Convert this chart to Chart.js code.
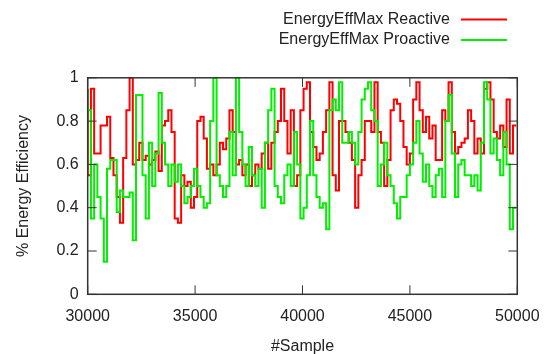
<!DOCTYPE html>
<html lang="en">
<head>
  <meta charset="UTF-8">
  <title>EnergyEffMax</title>
  <script src="https://cdn.jsdelivr.net/npm/chart.js"></script>
  <style>
    body {
      margin: 0;
      padding: 0;
      background-color: #fff;
    }

    #wrap {
      width: 553px;
      height: 354px;
    }
  </style>
</head>
<body>
  <div id="wrap">
    <canvas id="chart" width="553" height="354"></canvas>
  </div>
  <script>
    // readings from the picture, one value every 150 samples starting at 30000
    const startSample = 30000;
    const sampleStep = 150;

    const reactive = [
      0.95, 0.55, 0.95, 0.65, 0.65, 0.78, 0.78, 0.82, 0.63, 0.55,
      0.45, 0.33, 0.63, 0.85, 1.00, 0.60, 0.62, 0.70, 0.62, 0.64,
      0.60, 0.62, 0.66, 0.57, 0.78, 0.80, 0.85, 0.75, 0.35, 0.33,
      0.55, 0.50, 0.52, 0.40, 0.45, 0.80, 0.82, 0.72, 0.58, 0.60,
      0.55, 0.60, 0.70, 0.67, 0.72, 0.85, 0.75, 0.60, 0.62, 0.55,
      0.60, 0.50, 0.55, 0.60, 0.58, 0.65, 0.70, 0.58, 0.70, 0.75,
      0.80, 0.95, 0.80, 0.65, 0.85, 0.50, 0.55, 0.85, 0.95, 0.98,
      0.75, 0.68, 0.62, 0.65, 0.75, 0.85, 0.98, 0.55, 0.48, 0.80,
      0.80, 0.75, 0.70, 0.62, 0.40, 0.55, 0.62, 0.80, 0.80, 0.75,
      0.98, 0.75, 0.70, 0.50, 0.62, 0.85, 0.90, 0.88, 0.80, 0.68,
      0.60, 0.65, 0.90, 0.98, 0.85, 0.75, 0.82, 0.72, 0.78, 0.62,
      0.62, 0.85, 0.80, 0.98, 0.75, 0.65, 0.68, 0.70, 0.72, 0.85,
      0.80, 0.65, 0.72, 0.65, 0.95, 0.98, 0.90, 0.75, 0.72, 0.78,
      0.68, 0.90, 0.65, 0.78
    ];

    const proactive = [
      0.95, 0.85, 0.35, 0.60, 0.45, 0.35, 0.15, 0.58, 0.62, 0.62,
      0.38, 0.48, 0.45, 0.45, 0.47, 0.25, 0.92, 0.92, 0.55, 0.35,
      0.70, 0.50, 0.65, 0.93, 0.70, 0.60, 0.50, 0.60, 0.52, 0.60,
      0.50, 0.42, 0.45, 0.50, 0.58, 0.50, 0.45, 0.40, 0.42, 0.80,
      1.00, 0.55, 0.50, 0.45, 0.50, 0.75, 0.55, 1.00, 0.75, 0.60,
      0.50, 0.68, 0.55, 0.50, 0.58, 0.40, 0.70, 0.85, 0.95, 0.50,
      0.45, 0.42, 0.55, 0.60, 0.50, 0.75, 0.60, 0.35, 0.40, 0.55,
      0.80, 0.55, 0.45, 0.40, 0.42, 0.30, 0.85, 0.90, 0.85, 0.98,
      0.70, 0.70, 0.75, 0.70, 0.60, 0.75, 0.90, 0.95, 0.98, 0.85,
      0.80, 0.50, 0.60, 0.70, 0.55, 0.50, 0.42, 0.35, 0.45, 0.45,
      0.55, 0.60, 0.70, 0.80, 0.65, 0.52, 0.60, 0.50, 0.45, 0.55,
      0.58, 0.45, 0.80, 0.92, 0.65, 0.45, 0.60, 0.62, 0.55, 0.55,
      0.50, 0.55, 0.48, 0.70, 0.98, 0.90, 0.65, 0.72, 0.62, 0.55,
      0.75, 0.60, 0.30, 0.40
    ];

    const seriesLabels = ['EnergyEffMax Reactive', 'EnergyEffMax Proactive'];
    const xTicks = [30000, 35000, 40000, 45000, 50000];
    const yTicks = [0, 0.2, 0.4, 0.6, 0.8, 1];

    const samples = reactive.map((v, i) => startSample + i * sampleStep);

    const FONT = '"Liberation Sans", Arial, sans-serif';
    const TEXT = '#222';

    function points(values) {
      return values.map((v, i) => ({ x: samples[i], y: v }));
    }

    // gnuplot style box, inward ticks, axis titles and legend
    const gnuplotFrame = {
      id: 'gnuplotFrame',
      afterDraw(chart) {
        const ctx = chart.ctx;
        const a = chart.chartArea;
        const xs = chart.scales.x;
        const ys = chart.scales.y;
        const tick = 9;

        ctx.save();
        ctx.strokeStyle = '#333';
        ctx.lineWidth = 1.5;
        ctx.strokeRect(a.left, a.top, a.right - a.left, a.bottom - a.top);

        ctx.lineWidth = 1;
        ctx.beginPath();
        xTicks.forEach(t => {
          const px = xs.getPixelForValue(t);
          ctx.moveTo(px, a.bottom);
          ctx.lineTo(px, a.bottom - tick);
          ctx.moveTo(px, a.top);
          ctx.lineTo(px, a.top + tick);
        });
        yTicks.forEach(t => {
          const py = ys.getPixelForValue(t);
          ctx.moveTo(a.left, py);
          ctx.lineTo(a.left + tick, py);
          ctx.moveTo(a.right, py);
          ctx.lineTo(a.right - tick, py);
        });
        ctx.stroke();

        ctx.fillStyle = TEXT;
        ctx.font = '16px ' + FONT;

        // x title
        ctx.textAlign = 'center';
        ctx.textBaseline = 'alphabetic';
        ctx.fillText('#Sample', (a.left + a.right) / 2, 351);

        // y title
        ctx.save();
        ctx.translate(28, (a.top + a.bottom) / 2);
        ctx.rotate(-Math.PI / 2);
        ctx.fillText('% Energy Efficiency', 0, 0);
        ctx.restore();

        // legend: text then line sample
        const rows = [19.5, 40];
        chart.data.datasets.forEach((ds, i) => {
          ctx.textAlign = 'right';
          ctx.textBaseline = 'middle';
          ctx.fillStyle = TEXT;
          ctx.fillText(ds.label, 450, rows[i]);
          ctx.strokeStyle = ds.borderColor;
          ctx.lineWidth = 2;
          ctx.beginPath();
          ctx.moveTo(461, rows[i]);
          ctx.lineTo(507, rows[i]);
          ctx.stroke();
        });
        ctx.restore();
      }
    };

    new Chart(document.getElementById('chart'), {
      type: 'line',
      data: {
        datasets: [{
          label: seriesLabels[0],
          data: points(reactive),
          borderColor: '#ff0000',
          borderWidth: 2,
          pointRadius: 0,
          stepped: 'after',
          order: 1
        }, {
          label: seriesLabels[1],
          data: points(proactive),
          borderColor: '#00f000',
          borderWidth: 2,
          pointRadius: 0,
          stepped: 'after',
          order: 0
        }]
      },
      options: {
        responsive: false,
        animation: false,
        events: [],
        layout: {
          padding: { left: 0, top: 77.8, right: 35.7, bottom: 0 }
        },
        plugins: {
          legend: { display: false },
          tooltip: { enabled: false }
        },
        scales: {
          x: {
            type: 'linear',
            min: 30000,
            max: 50000,
            grid: { display: false },
            border: { display: false },
            afterBuildTicks: scale => {
              scale.ticks = xTicks.map(v => ({ value: v }));
            },
            afterFit: scale => { scale.height = 59.7; },
            ticks: {
              padding: 5,
              color: TEXT,
              font: { family: FONT, size: 16 },
              maxRotation: 0,
              callback: v => String(v)
            }
          },
          y: {
            min: 0,
            max: 1,
            grid: { display: false },
            border: { display: false },
            afterBuildTicks: scale => {
              scale.ticks = yTicks.map(v => ({ value: v }));
            },
            afterFit: scale => { scale.width = 87.7; },
            ticks: {
              padding: 1,
              color: TEXT,
              font: { family: FONT, size: 16 },
              callback: v => String(v)
            }
          }
        }
      },
      plugins: [gnuplotFrame]
    });
  </script>
</body>
</html>
